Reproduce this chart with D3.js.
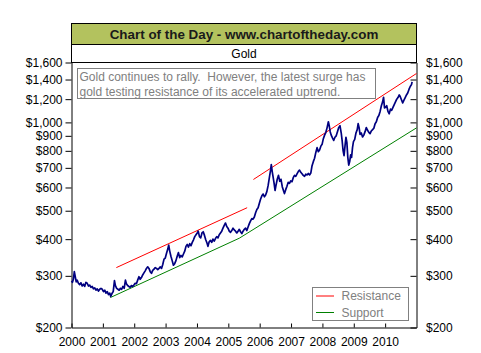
<!DOCTYPE html>
<html lang="en">
<head>
    <meta charset="UTF-8">
    <title>Gold</title>
    <style>
        body {
            margin: 0;
            background: #fff;
            font-family: Arial, "Liberation Sans", sans-serif;
        }
        svg text {
            font-family: Arial, "Liberation Sans", sans-serif;
        }
    </style>
</head>
<body>
    <div id="chart"></div>

    <script src="https://d3js.org/d3.v7.min.js"></script>
    <script>
        // gold price (decimal year, US$/oz)
        const goldDates = [
            2000.00, 2000.03, 2000.06, 2000.09, 2000.12, 2000.15, 2000.18, 2000.22, 2000.26, 2000.30,
            2000.34, 2000.38, 2000.42, 2000.46, 2000.50, 2000.54, 2000.58, 2000.62, 2000.66, 2000.70,
            2000.74, 2000.78, 2000.82, 2000.86, 2000.90, 2000.94, 2000.98, 2001.02, 2001.06, 2001.10,
            2001.14, 2001.18, 2001.22, 2001.25, 2001.29, 2001.33, 2001.37, 2001.40, 2001.44, 2001.48,
            2001.52, 2001.56, 2001.60, 2001.64, 2001.68, 2001.72, 2001.75, 2001.79, 2001.83, 2001.87,
            2001.91, 2001.95, 2001.99, 2002.03, 2002.07, 2002.11, 2002.15, 2002.19, 2002.23, 2002.27,
            2002.31, 2002.35, 2002.39, 2002.43, 2002.47, 2002.51, 2002.55, 2002.59, 2002.63, 2002.67,
            2002.71, 2002.75, 2002.79, 2002.83, 2002.87, 2002.91, 2002.95, 2002.99, 2003.03, 2003.07,
            2003.10, 2003.13, 2003.17, 2003.21, 2003.25, 2003.29, 2003.33, 2003.37, 2003.41, 2003.45,
            2003.49, 2003.53, 2003.57, 2003.61, 2003.65, 2003.69, 2003.73, 2003.77, 2003.81, 2003.85,
            2003.89, 2003.93, 2003.97, 2004.01, 2004.04, 2004.08, 2004.12, 2004.16, 2004.20, 2004.24,
            2004.28, 2004.32, 2004.35, 2004.39, 2004.43, 2004.47, 2004.51, 2004.55, 2004.59, 2004.63,
            2004.67, 2004.71, 2004.75, 2004.79, 2004.83, 2004.87, 2004.91, 2004.95, 2004.99, 2005.03,
            2005.07, 2005.11, 2005.15, 2005.19, 2005.23, 2005.27, 2005.31, 2005.35, 2005.39, 2005.43,
            2005.47, 2005.51, 2005.55, 2005.59, 2005.63, 2005.67, 2005.71, 2005.75, 2005.79, 2005.83,
            2005.87, 2005.91, 2005.95, 2005.99, 2006.03, 2006.07, 2006.11, 2006.15, 2006.19, 2006.23,
            2006.27, 2006.31, 2006.35, 2006.37, 2006.40, 2006.43, 2006.46, 2006.49, 2006.52, 2006.56,
            2006.60, 2006.64, 2006.68, 2006.72, 2006.76, 2006.79, 2006.83, 2006.87, 2006.91, 2006.95,
            2006.99, 2007.03, 2007.07, 2007.11, 2007.15, 2007.19, 2007.23, 2007.27, 2007.31, 2007.35,
            2007.39, 2007.43, 2007.47, 2007.51, 2007.55, 2007.59, 2007.63, 2007.67, 2007.71, 2007.75,
            2007.79, 2007.83, 2007.87, 2007.91, 2007.95, 2007.99, 2008.03, 2008.07, 2008.11, 2008.15,
            2008.19, 2008.22, 2008.25, 2008.28, 2008.32, 2008.36, 2008.40, 2008.44, 2008.48, 2008.52,
            2008.56, 2008.60, 2008.63, 2008.66, 2008.69, 2008.72, 2008.75, 2008.78, 2008.81, 2008.84,
            2008.87, 2008.90, 2008.93, 2008.96, 2008.99, 2009.03, 2009.07, 2009.11, 2009.14, 2009.17,
            2009.20, 2009.24, 2009.28, 2009.32, 2009.36, 2009.40, 2009.44, 2009.48, 2009.52, 2009.56,
            2009.60, 2009.64, 2009.68, 2009.72, 2009.76, 2009.80, 2009.84, 2009.88, 2009.92, 2009.95,
            2009.98, 2010.01, 2010.05, 2010.09, 2010.13, 2010.17, 2010.21, 2010.25, 2010.29, 2010.33,
            2010.37, 2010.41, 2010.45, 2010.48, 2010.52, 2010.56, 2010.60, 2010.64, 2010.68, 2010.72,
            2010.76, 2010.80, 2010.84, 2010.86
        ];
        const goldPrices = [
            288, 285, 292, 310, 298, 286, 290, 283, 280, 284,
            277, 281, 276, 285, 283, 277, 279, 274, 276, 271,
            273, 268, 271, 266, 270, 272, 270, 265, 268, 262,
            265, 259, 262, 255, 261, 265, 289, 278, 272, 270,
            268, 272, 270, 276, 272, 290, 282, 278, 276, 274,
            278, 276, 279, 283, 282, 290, 298, 292, 296, 302,
            307, 312, 318, 322, 318, 310, 306, 313, 316, 320,
            318, 315, 318, 322, 318, 328, 342, 345, 358, 370,
            382, 365, 350, 338, 326, 330, 338, 350, 360, 346,
            352, 348, 356, 364, 378, 384, 376, 386, 380, 390,
            398, 408, 414, 420, 426, 408, 404, 420, 424, 412,
            398, 388, 378, 392, 396, 390, 400, 394, 402, 408,
            404, 414, 420, 426, 436, 446, 454, 442, 436, 426,
            422, 428, 436, 430, 426, 420, 426, 432, 424, 418,
            426, 432, 436, 428, 440, 452, 462, 470, 468, 476,
            492, 505, 512, 530, 548, 562, 570, 558, 566, 582,
            610, 650, 690, 718, 680, 650, 620, 586, 610, 640,
            660, 630, 640, 604, 585, 572, 590, 606, 625, 620,
            632, 628, 648, 660, 655, 668, 680, 688, 676, 668,
            660, 655, 666, 662, 670, 662, 672, 712, 735, 755,
            790, 820, 795, 805, 830, 842, 880, 905, 925, 960,
            1005, 970, 928, 905, 885, 868, 890, 900, 930, 960,
            975, 920, 865, 800, 770, 830, 890, 855, 760, 715,
            735, 775, 760, 820, 860, 875, 920, 945, 990, 960,
            910, 920, 892, 905, 930, 960, 940, 925, 915, 935,
            945, 955, 990, 1005, 1040, 1055, 1090, 1140, 1175, 1218,
            1120, 1125, 1140, 1090, 1070, 1110, 1100, 1125, 1150, 1175,
            1200, 1215, 1240, 1225, 1195, 1165, 1190, 1215, 1240, 1260,
            1295, 1325, 1345, 1375
        ];

        // trend lines drawn on the chart
        const resistanceLines = [
            [[2001.43, 320], [2005.60, 512]],
            [[2005.80, 639], [2011.00, 1468]]
        ];
        const supportLine = [[2001.24, 253], [2005.35, 403], [2011.00, 958]];

        const yearTicks = [2000, 2001, 2002, 2003, 2004, 2005, 2006, 2007, 2008, 2009, 2010];
        const priceTicks = [200, 300, 400, 500, 600, 700, 800, 900, 1000, 1200, 1400, 1600];

        const titleText = "Chart of the Day - www.chartoftheday.com";
        const subTitle = "Gold";
        const noteLines = [
            "Gold continues to rally.  However, the latest surge has",
            "gold testing resistance of its accelerated uptrend."
        ];
        const legendItems = [
            {name: "Resistance", color: "#ff0000"},
            {name: "Support", color: "#008000"}
        ];

        const W = 481, H = 353;
        const plotL = 71.5, plotR = 416.5, plotT = 62.5, plotB = 327.5;

        const svg = d3.select("#chart").append("svg")
            .attr("width", W)
            .attr("height", H);

        svg.append("rect").attr("width", W).attr("height", H).attr("fill", "#fff");

        const x = d3.scaleLinear().domain([2000, 2011]).range([plotL, plotR]);
        const y = d3.scaleLog().domain([200, 1600]).range([plotB, plotT]);
        const fmt = d3.format("$,.0f");

        // header boxes
        svg.append("rect")
            .attr("x", plotL).attr("y", 23.5)
            .attr("width", plotR - plotL).attr("height", 21)
            .attr("fill", "#b3c25e").attr("stroke", "#000");
        svg.append("rect")
            .attr("x", plotL).attr("y", 44.5)
            .attr("width", plotR - plotL).attr("height", 18)
            .attr("fill", "#fff").attr("stroke", "#000");
        svg.append("text")
            .attr("x", (plotL + plotR) / 2).attr("y", 38.5)
            .attr("text-anchor", "middle")
            .attr("font-size", 13.4).attr("font-weight", "bold")
            .attr("fill", "#1a1a1a")
            .text(titleText);
        svg.append("text")
            .attr("x", (plotL + plotR) / 2).attr("y", 58)
            .attr("text-anchor", "middle")
            .attr("font-size", 12).attr("fill", "#000")
            .text(subTitle);

        // axes
        const yLeft = svg.append("g")
            .attr("transform", `translate(${plotL},0)`)
            .call(d3.axisLeft(y).tickValues(priceTicks).tickFormat(fmt)
                .tickSizeInner(6).tickSizeOuter(0).tickPadding(3));
        const yRight = svg.append("g")
            .attr("transform", `translate(${plotR},0)`)
            .call(d3.axisRight(y).tickValues(priceTicks).tickFormat(fmt)
                .tickSizeInner(-6).tickSizeOuter(0).tickPadding(9.5));
        const xAxis = svg.append("g")
            .attr("transform", `translate(0,${plotB})`)
            .call(d3.axisBottom(x).tickValues(yearTicks).tickFormat(d3.format("d"))
                .tickSizeInner(-4).tickSizeOuter(0).tickPadding(10));

        [yLeft, yRight, xAxis].forEach(g => {
            g.selectAll("text")
                .attr("font-size", 12)
                .attr("font-family", "Arial, 'Liberation Sans', sans-serif")
                .attr("fill", "#000");
            g.selectAll("line, path").attr("stroke", "#000");
        });

        // trend lines
        const line = d3.line().x(d => x(d[0])).y(d => y(d[1]));

        resistanceLines.forEach(seg => {
            svg.append("path")
                .attr("d", line(seg))
                .attr("fill", "none")
                .attr("stroke", "#ff0000")
                .attr("stroke-width", 1);
        });
        svg.append("path")
            .attr("d", line(supportLine))
            .attr("fill", "none")
            .attr("stroke", "#008000")
            .attr("stroke-width", 1);

        // gold series
        const goldData = goldDates.map((d, i) => [d, goldPrices[i]]);
        svg.append("path")
            .datum(goldData)
            .attr("d", line)
            .attr("fill", "none")
            .attr("stroke", "#000080")
            .attr("stroke-width", 1.7)
            .attr("stroke-linejoin", "round");

        // annotation box
        svg.append("rect")
            .attr("x", 77.5).attr("y", 68.5)
            .attr("width", 298).attr("height", 30)
            .attr("fill", "#fff").attr("stroke", "#808080");
        noteLines.forEach((t, i) => {
            svg.append("text")
                .attr("x", 79.5).attr("y", 81 + i * 14.5)
                .attr("font-size", 12)
                .attr("fill", "#808080")
                .style("white-space", "pre")
                .text(t);
        });

        // legend
        const legend = svg.append("g");
        legend.append("rect")
            .attr("x", 312.5).attr("y", 287.5)
            .attr("width", 96).attr("height", 33)
            .attr("fill", "#fff").attr("stroke", "#808080");
        legendItems.forEach((item, i) => {
            const ly = 296 + i * 16.5;
            legend.append("line")
                .attr("x1", 316).attr("x2", 334)
                .attr("y1", ly).attr("y2", ly)
                .attr("stroke", item.color);
            legend.append("text")
                .attr("x", 341.5).attr("y", ly + 4)
                .attr("font-size", 12)
                .attr("fill", "#808080")
                .text(item.name);
        });
    </script>
</body>
</html>
